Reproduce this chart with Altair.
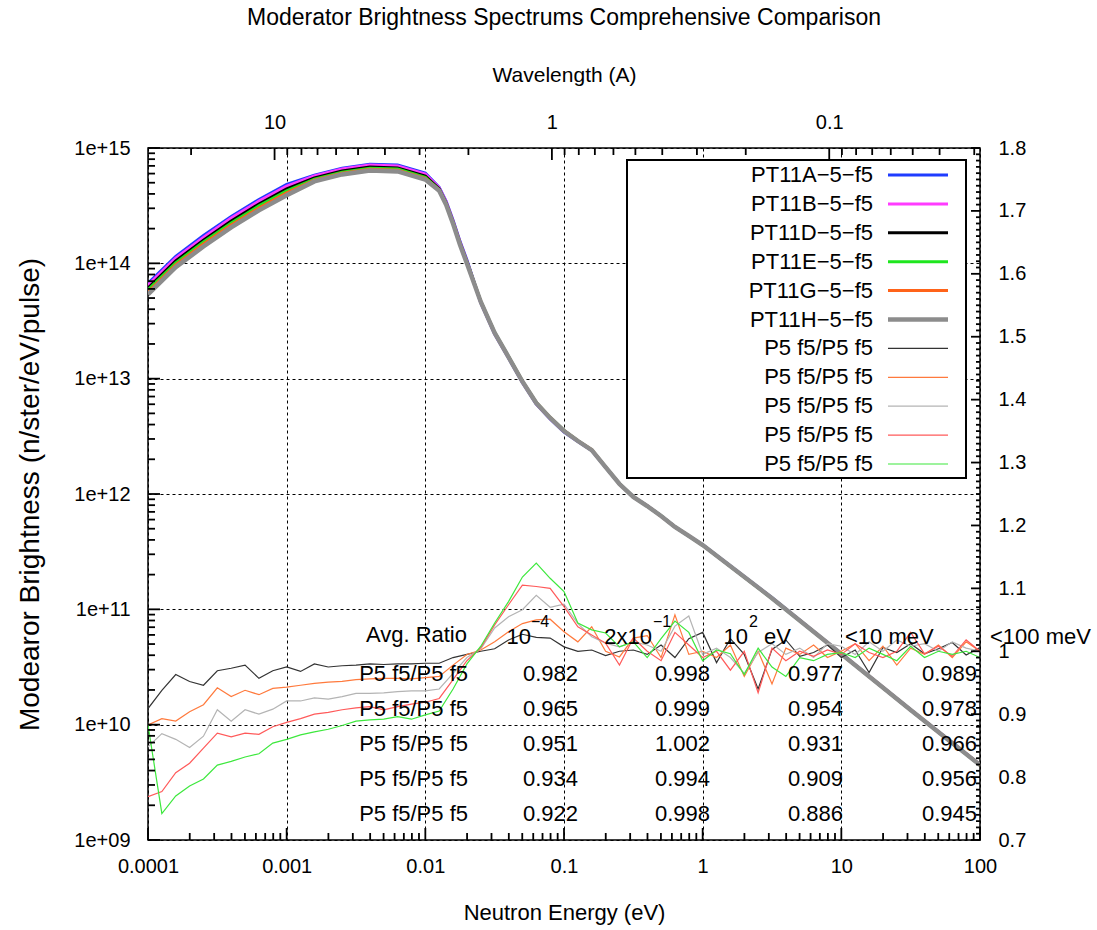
import altair as alt
import numpy as np
import pandas as pd

W, H = 832, 692
LAMBDA_C = 0.28601  # wavelength (A) = LAMBDA_C / sqrt(E[eV])
FONT = "Liberation Sans, Arial, sans-serif"

# ---------------- spectra (n/ster/eV/pulse) ----------------
spec_energy = [1.0e-4, 1.585e-4, 2.512e-4, 3.981e-4, 6.310e-4, 1.0e-3, 1.585e-3, 2.512e-3,
               3.981e-3, 6.310e-3, 1.0e-2, 1.259e-2, 1.413e-2, 1.585e-2, 1.778e-2, 1.995e-2,
               2.512e-2, 3.162e-2, 3.981e-2, 5.012e-2, 6.310e-2, 7.943e-2, 0.1, 0.1259,
               0.1585, 0.1995, 0.2512, 0.3162, 0.3981, 0.5012, 0.6310, 0.7943, 1.0, 3.162,
               10.0, 31.62, 100.0]

pt11a = [6.70e13, 1.15e14, 1.74e14, 2.55e14, 3.58e14, 4.84e14, 5.82e14, 6.69e14, 7.24e14,
         7.11e14, 6.05e14, 4.56e14, 3.45e14, 2.36e14, 1.55e14, 1.07e14, 4.53e13, 2.44e13,
         1.51e13, 9.25e12, 6.03e12, 4.47e12, 3.45e12, 2.85e12, 2.38e12, 1.70e12, 1.22e12,
         9.45e11, 7.90e11, 6.46e11, 5.20e11, 4.33e11, 3.63e11, 1.26e11, 4.11e10, 1.34e10, 4.48e9]
pt11b = [6.47e13, 1.11e14, 1.68e14, 2.47e14, 3.46e14, 4.68e14, 5.72e14, 6.57e14, 7.11e14,
         6.98e14, 5.94e14, 4.51e14, 3.41e14, 2.33e14, 1.53e14, 1.05e14, 4.55e13, 2.45e13,
         1.52e13, 9.30e12, 6.06e12, 4.49e12, 3.47e12, 2.86e12, 2.39e12, 1.71e12, 1.23e12,
         9.40e11, 7.88e11, 6.45e11, 5.17e11, 4.35e11, 3.62e11, 1.25e11, 4.12e10, 1.35e10, 4.49e9]
pt11d = [6.11e13, 1.05e14, 1.59e14, 2.33e14, 3.27e14, 4.42e14, 5.50e14, 6.32e14, 6.84e14,
         6.71e14, 5.71e14, 4.41e14, 3.33e14, 2.28e14, 1.50e14, 1.03e14, 4.62e13, 2.49e13,
         1.54e13, 9.44e12, 6.15e12, 4.56e12, 3.52e12, 2.88e12, 2.40e12, 1.71e12, 1.22e12,
         9.42e11, 7.87e11, 6.44e11, 5.18e11, 4.33e11, 3.61e11, 1.25e11, 4.10e10, 1.34e10, 4.47e9]
pt11e = [5.88e13, 1.01e14, 1.53e14, 2.24e14, 3.15e14, 4.25e14, 5.37e14, 6.17e14, 6.68e14,
         6.56e14, 5.58e14, 4.36e14, 3.29e14, 2.25e14, 1.48e14, 1.02e14, 4.67e13, 2.52e13,
         1.56e13, 9.53e12, 6.21e12, 4.61e12, 3.56e12, 2.90e12, 2.41e12, 1.72e12, 1.23e12,
         9.45e11, 7.85e11, 6.47e11, 5.19e11, 4.32e11, 3.60e11, 1.24e11, 4.09e10, 1.34e10, 4.46e9]
pt11g = [5.64e13, 9.69e13, 1.47e14, 2.15e14, 3.02e14, 4.08e14, 5.25e14, 6.04e14, 6.53e14,
         6.41e14, 5.45e14, 4.31e14, 3.25e14, 2.23e14, 1.47e14, 1.01e14, 4.67e13, 2.51e13,
         1.55e13, 9.53e12, 6.21e12, 4.61e12, 3.55e12, 2.90e12, 2.42e12, 1.72e12, 1.22e12,
         9.40e11, 7.90e11, 6.42e11, 5.20e11, 4.34e11, 3.60e11, 1.25e11, 4.10e10, 1.34e10, 4.47e9]
pt11h = [5.38e13, 9.25e13, 1.40e14, 2.05e14, 2.88e14, 3.89e14, 5.13e14, 5.90e14, 6.38e14,
         6.26e14, 5.33e14, 4.26e14, 3.22e14, 2.20e14, 1.45e14, 9.95e13, 4.62e13, 2.49e13,
         1.54e13, 9.44e12, 6.15e12, 4.56e12, 3.52e12, 2.88e12, 2.40e12, 1.71e12, 1.22e12,
         9.42e11, 7.87e11, 6.44e11, 5.18e11, 4.33e11, 3.61e11, 1.25e11, 4.10e10, 1.34e10, 4.47e9]

spec_names = ["PT11A−5−f5", "PT11B−5−f5", "PT11D−5−f5", "PT11E−5−f5", "PT11G−5−f5", "PT11H−5−f5"]
spec_values = [pt11a, pt11b, pt11d, pt11e, pt11g, pt11h]
spec_colors = ["#1f3cff", "#ff3cff", "#000000", "#1ee61e", "#ff6319", "#8c8c8c"]

# ---------------- ratios (right axis) ----------------
ratio_energy = [float(v) for v in np.logspace(-4, 2, 61)]  # 10 bins per decade

ratio_1 = [0.909, 0.938, 0.963, 0.952, 0.946, 0.969, 0.973, 0.978, 0.957, 0.969,
           0.975, 0.968, 0.980, 0.975, 0.977, 0.978, 0.980, 0.979, 0.980, 0.980,
           0.981, 0.981, 0.990, 0.995, 1.000, 1.004, 1.018, 1.027, 1.022, 1.021,
           1.007, 1.000, 1.002, 0.993, 1.000, 1.002, 0.995, 1.010, 0.990, 1.020,
           1.030, 0.982, 1.020, 0.995, 0.940, 1.003, 1.018, 0.992, 0.998, 1.010,
           0.990, 1.002, 0.966, 1.006, 0.998, 1.012, 0.996, 1.004, 1.014, 0.994,
           1.006]
ratio_2 = [0.883, 0.893, 0.889, 0.904, 0.915, 0.942, 0.928, 0.938, 0.931, 0.941,
           0.943, 0.946, 0.949, 0.951, 0.952, 0.955, 0.956, 0.957, 0.957, 0.956,
           0.958, 0.960, 0.978, 0.995, 1.002, 1.015, 1.031, 1.044, 1.050, 1.051,
           1.031, 1.015, 1.039, 1.000, 0.991, 1.021, 1.025, 0.990, 1.058, 0.995,
           1.000, 0.990, 1.010, 0.960, 1.000, 0.948, 1.005, 0.995, 1.010, 0.990,
           1.000, 1.012, 0.985, 1.008, 0.978, 1.005, 0.995, 1.010, 0.990, 1.015,
           1.000]
ratio_3 = [0.848, 0.869, 0.860, 0.847, 0.865, 0.907, 0.889, 0.907, 0.900, 0.908,
           0.921, 0.921, 0.926, 0.924, 0.928, 0.933, 0.933, 0.934, 0.936, 0.937,
           0.937, 0.940, 0.965, 0.990, 1.004, 1.037, 1.055, 1.066, 1.089, 1.070,
           1.075, 1.044, 1.023, 1.013, 1.007, 1.015, 1.010, 1.000, 1.040, 1.056,
           0.995, 1.005, 0.990, 0.965, 0.998, 1.012, 0.995, 1.005, 0.990, 1.012,
           1.008, 0.995, 1.015, 1.000, 1.018, 1.008, 1.012, 1.000, 1.015, 1.005,
           1.000]
ratio_4 = [0.769, 0.777, 0.807, 0.822, 0.846, 0.870, 0.864, 0.870, 0.868, 0.880,
           0.887, 0.893, 0.900, 0.903, 0.907, 0.910, 0.912, 0.907, 0.912, 0.916,
           0.919, 0.925, 0.955, 0.985, 1.006, 1.042, 1.074, 1.105, 1.103, 1.100,
           1.071, 1.039, 1.026, 1.013, 0.978, 1.021, 1.000, 0.985, 1.030, 1.010,
           0.990, 1.000, 0.970, 1.000, 0.934, 1.005, 0.985, 1.000, 0.992, 1.002,
           0.995, 1.012, 0.998, 0.990, 1.000, 1.030, 0.996, 1.008, 0.992, 1.018,
           1.000]
ratio_5 = [0.883, 0.742, 0.770, 0.786, 0.797, 0.819, 0.825, 0.832, 0.837, 0.854,
           0.860, 0.867, 0.872, 0.876, 0.882, 0.889, 0.891, 0.892, 0.896, 0.892,
           0.899, 0.905, 0.940, 0.980, 1.008, 1.045, 1.079, 1.118, 1.140, 1.116,
           1.095, 1.045, 1.034, 1.029, 1.007, 1.015, 0.990, 1.020, 1.048, 1.030,
           0.985, 1.002, 0.996, 0.963, 1.005, 0.975, 0.960, 0.990, 0.985, 0.995,
           0.998, 0.990, 1.005, 0.995, 0.985, 1.008, 0.990, 1.000, 0.995, 1.000,
           0.990]

ratio_label = "P5 f5/P5 f5"
ratio_ids = ["r1", "r2", "r3", "r4", "r5"]
ratio_values = [ratio_1, ratio_2, ratio_3, ratio_4, ratio_5]
ratio_colors = ["#333333", "#ff7a3d", "#b4b4b4", "#ff5a5a", "#3de83d"]

# ---------------- average-ratio table ----------------
avg_1e4 = [0.982, 0.965, 0.951, 0.934, 0.922]
avg_2e1 = [0.998, 0.999, 1.002, 0.994, 0.998]
avg_1e2 = [0.977, 0.954, 0.931, 0.909, 0.886]
avg_10mev = [0.989, 0.978, 0.966, 0.956, 0.945]

# ---------------- tables ----------------
spec_df = pd.DataFrame([
    {"series": n, "energy": e, "brightness": b}
    for n, vals in zip(spec_names, spec_values)
    for e, b in zip(spec_energy, vals)
])
thick_df = spec_df[spec_df.series != spec_names[-1]]
gray_df = spec_df[spec_df.series == spec_names[-1]]

ratio_df = pd.DataFrame([
    {"series": rid, "energy": e, "ratio": r}
    for rid, vals in zip(ratio_ids, ratio_values)
    for e, r in zip(ratio_energy, vals)
])

lam_lo = float(LAMBDA_C / np.sqrt(100.0))
lam_hi = float(LAMBDA_C / np.sqrt(1e-4))
frame_df = pd.DataFrame({"lam": [lam_hi, lam_lo], "ratio": [0.7, 1.8]})

# ---------------- scales & axes ----------------
x_energy = alt.Scale(type="log", domain=[1e-4, 100], nice=False)
y_bright = alt.Scale(type="log", domain=[1e9, 1e15], nice=False)
y_ratio = alt.Scale(type="linear", domain=[0.7, 1.8], nice=False, zero=False)
x_lambda = alt.Scale(type="log", domain=[lam_hi, lam_lo], nice=False)


def decade_ticks(lo, hi, e_min, e_max):
    """Split 1..9 x 10^e tick positions in [lo, hi] into majors and minors."""
    major, minor = [], []
    for e in range(e_min, e_max + 1):
        for m in range(1, 10):
            v = m * 10.0 ** e if e >= 0 else m / 10.0 ** (-e)
            if lo * 0.999 <= v <= hi * 1.001:
                (major if m == 1 else minor).append(v)
    return major, minor


energy_major, energy_minor = decade_ticks(1e-4, 100, -4, 2)
bright_major, bright_minor = decade_ticks(1e9, 1e15, 9, 15)
lam_major, lam_minor = decade_ticks(lam_lo, lam_hi, -2, 1)
ratio_major = [round(0.7 + 0.1 * i, 1) for i in range(12)]
ratio_minor = [round(0.70 + 0.01 * i, 2) for i in range(111) if i % 10]

label_style = dict(ticks=False, tickSize=0, domain=False, labelFont=FONT, labelFontSize=20,
                   labelColor="black", labelFlush=False, labelOverlap=False)
grid_style = dict(grid=True, gridDash=[3, 3], gridColor="black", gridWidth=1, gridOpacity=1)

ax_energy = alt.Axis(orient="bottom", values=energy_major, format="~g",
                     labelPadding=16, title="Neutron Energy (eV)", titleFont=FONT,
                     titleFontSize=22, titleFontWeight="normal", titleColor="black",
                     titleY=72, titleBaseline="middle", **grid_style, **label_style)
ax_bright = alt.Axis(orient="left", values=bright_major,
                     labelExpr="'1e+' + (round(log(datum.value)/LN10) < 10 ? '0' : '') + round(log(datum.value)/LN10)",
                     labelPadding=18, title="Modearor Brightness (n/ster/eV/pulse)",
                     titleFont=FONT, titleFontSize=28, titleFontWeight="normal",
                     titleColor="black", titleX=-118, titleY=346, titleAngle=270,
                     titleBaseline="middle", titleAlign="center", **grid_style, **label_style)
ax_ratio = alt.Axis(orient="right", values=ratio_major, format=".1~f", labelPadding=18,
                    grid=False, title=None, **label_style)
ax_lambda = alt.Axis(orient="top", values=[10, 1, 0.1], format="~g", labelPadding=16, grid=False,
                     title="Wavelength (A)", titleFont=FONT, titleFontSize=21,
                     titleFontWeight="normal", titleColor="black", titleY=-73,
                     titleBaseline="middle", **label_style)

# ---------------- data layers ----------------
spec_thick = alt.Chart(thick_df).mark_line(strokeWidth=3, clip=True).encode(
    x=alt.X("energy:Q", scale=x_energy, axis=ax_energy),
    y=alt.Y("brightness:Q", scale=y_bright, axis=ax_bright),
    color=alt.Color("series:N", scale=alt.Scale(domain=spec_names[:-1], range=spec_colors[:-1]),
                    legend=None),
)

spec_gray = alt.Chart(gray_df).mark_line(strokeWidth=4.5, color=spec_colors[-1], clip=True).encode(
    x=alt.X("energy:Q", scale=x_energy, axis=None),
    y=alt.Y("brightness:Q", scale=y_bright, axis=None),
)

ratio_lines = alt.Chart(ratio_df).mark_line(strokeWidth=1.2, clip=True).encode(
    x=alt.X("energy:Q", scale=x_energy, axis=None),
    y=alt.Y("ratio:Q", scale=y_ratio, axis=ax_ratio),
    color=alt.Color("series:N", scale=alt.Scale(domain=ratio_ids, range=ratio_colors), legend=None),
)

lambda_axis = alt.Chart(frame_df).mark_point(opacity=0).encode(
    x=alt.X("lam:Q", scale=x_lambda, axis=ax_lambda),
    y=alt.Y("ratio:Q", scale=y_ratio, axis=None),
)

# ---------------- inward ticks on all four borders ----------------
TICK = dict(color="black", strokeWidth=1.8)


def x_ticks(values, scale, y0, y1):
    return alt.Chart(pd.DataFrame({"v": values})).mark_rule(**TICK).encode(
        x=alt.X("v:Q", scale=scale, axis=None), y=alt.value(y0), y2=alt.value(y1))


def y_ticks(values, scale, x0, x1):
    return alt.Chart(pd.DataFrame({"v": values})).mark_rule(**TICK).encode(
        y=alt.Y("v:Q", scale=scale, axis=None), x=alt.value(x0), x2=alt.value(x1))


tick_layers = [
    x_ticks(energy_major, x_energy, H, H - 12),
    x_ticks(energy_minor, x_energy, H, H - 7),
    x_ticks(lam_major, x_lambda, 0, 12),
    x_ticks(lam_minor, x_lambda, 0, 7),
    y_ticks(bright_major, y_bright, 0, 12),
    y_ticks(bright_minor, y_bright, 0, 7),
    y_ticks(ratio_major, y_ratio, W, W - 9),
    y_ticks(ratio_minor, y_ratio, W, W - 4),
]

# ---------------- key ----------------
one = pd.DataFrame({"k": [0]})
key_box = alt.Chart(one).mark_rect(fill="white", stroke="black", strokeWidth=2).encode(
    x=alt.value(479), x2=alt.value(818), y=alt.value(12), y2=alt.value(330))

key_df = pd.DataFrame({
    "idx": list(range(11)),
    "label": spec_names + [ratio_label] * 5,
    "color": spec_colors + ratio_colors,
    "width": [3, 3, 3, 3, 3, 4.5] + [1.2] * 5,
})
key_y = alt.Y("idx:O", scale=alt.Scale(type="point", domain=list(range(11)), range=[27, 316],
                                       padding=0), axis=None)
key_text = alt.Chart(key_df).mark_text(align="right", baseline="middle", font=FONT, fontSize=22,
                                       color="black").encode(
    x=alt.value(725), y=key_y, text="label:N")
key_lines = alt.Chart(key_df).mark_rule().encode(
    x=alt.value(740), x2=alt.value(800), y=key_y,
    color=alt.Color("color:N", scale=None),
    strokeWidth=alt.StrokeWidth("width:Q", scale=None))

# ---------------- average-ratio table ----------------
row_y = alt.Y("row:O", scale=alt.Scale(type="point", domain=list(range(5)), range=[526, 666],
                                       padding=0), axis=None)
table_columns = [
    (320, [ratio_label] * 5),
    (430, [f"{v:.3f}" for v in avg_1e4]),
    (562, [f"{v:.3f}" for v in avg_2e1]),
    (695, [f"{v:.3f}" for v in avg_1e2]),
    (829, [f"{v:.3f}" for v in avg_10mev]),
]
table_layers = []
for cx, texts in table_columns:
    df = pd.DataFrame({"row": list(range(5)), "txt": texts})
    table_layers.append(
        alt.Chart(df).mark_text(align="right", baseline="middle", font=FONT, fontSize=22,
                                color="black").encode(x=alt.value(cx), y=row_y, text="txt:N"))

header_parts = [
    ("Avg. Ratio", 319, 487, "right", 22),
    ("10", 383, 489, "right", 22),
    ("−4", 383, 474, "left", 16),
    ("2x10", 504, 489, "right", 22),
    ("−1", 505, 474, "left", 16),
    ("10", 600, 489, "right", 22),
    ("2", 601, 474, "left", 16),
    ("eV", 616, 489, "left", 22),
    ("<10 meV", 697, 489, "left", 22),
    ("<100 meV", 842, 489, "left", 22),
]
header_layers = []
for txt, hx, hy, al, fs in header_parts:
    header_layers.append(
        alt.Chart(pd.DataFrame({"txt": [txt]})).mark_text(
            align=al, baseline="middle", font=FONT, fontSize=fs, color="black").encode(
            x=alt.value(hx), y=alt.value(hy), text="txt:N"))

title = alt.Chart(pd.DataFrame({"txt": ["Moderator Brightness Spectrums Comprehensive Comparison"]})).mark_text(
    align="center", baseline="middle", font=FONT, fontSize=23, color="black").encode(
    x=alt.value(W / 2), y=alt.value(-130), text="txt:N")

chart = alt.layer(
    spec_thick, spec_gray, ratio_lines, lambda_axis,
    key_box, key_lines, key_text, *table_layers, *header_layers, title, *tick_layers,
).resolve_scale(
    x="independent", y="independent", color="independent"
).resolve_axis(
    x="independent", y="independent"
).properties(
    width=W, height=H,
    autosize=alt.AutoSizeParams(type="none"),
    padding={"left": 148, "top": 148, "right": 117, "bottom": 90},
    background="white",
).configure_view(stroke="black", strokeWidth=1.5)

chart.save("out.html", embed_options={"renderer": "svg", "actions": False})
